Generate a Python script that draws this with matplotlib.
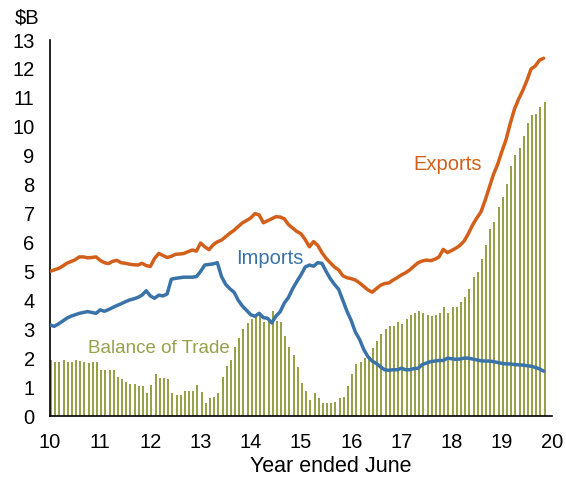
import matplotlib
matplotlib.use('Agg')
import matplotlib.pyplot as plt
import numpy as np

# monthly values, $B, starting at year-ended-June 2010
exports = [5.00, 5.05, 5.10, 5.18, 5.28, 5.34, 5.40, 5.50, 5.50, 5.47, 5.48, 5.50,
           5.38, 5.30, 5.27, 5.35, 5.38, 5.30, 5.28, 5.25, 5.23, 5.22, 5.28, 5.20,
           5.17, 5.45, 5.62, 5.55, 5.48, 5.52, 5.59, 5.60, 5.62, 5.68, 5.74, 5.70,
           5.98, 5.85, 5.75, 5.92, 6.02, 6.08, 6.20, 6.32, 6.42, 6.55, 6.68, 6.76,
           6.85, 7.00, 6.95, 6.68, 6.75, 6.82, 6.89, 6.88, 6.82, 6.62, 6.50, 6.38,
           6.30, 6.10, 5.85, 6.03, 5.90, 5.65, 5.45, 5.30, 5.15, 5.05, 4.85, 4.78,
           4.75, 4.70, 4.60, 4.48, 4.36, 4.28, 4.40, 4.52, 4.58, 4.60, 4.70, 4.78,
           4.88, 4.95, 5.05, 5.18, 5.30, 5.36, 5.39, 5.37, 5.42, 5.50, 5.76, 5.65,
           5.72, 5.80, 5.90, 6.05, 6.30, 6.60, 6.84, 7.05, 7.45, 7.90, 8.35, 8.70,
           9.14, 9.55, 10.10, 10.60, 10.95, 11.25, 11.60, 12.00, 12.10, 12.30, 12.37]

imports = [3.15, 3.10, 3.18, 3.28, 3.38, 3.45, 3.50, 3.55, 3.58, 3.61, 3.58, 3.55,
           3.67, 3.62, 3.68, 3.75, 3.82, 3.88, 3.95, 4.01, 4.05, 4.10, 4.18, 4.33,
           4.15, 4.07, 4.18, 4.15, 4.22, 4.73, 4.76, 4.78, 4.80, 4.80, 4.80, 4.82,
           5.00, 5.22, 5.24, 5.26, 5.30, 4.82, 4.55, 4.40, 4.28, 4.00, 3.80, 3.65,
           3.50, 3.45, 3.55, 3.40, 3.38, 3.22, 3.45, 3.60, 3.90, 4.10, 4.40, 4.65,
           4.88, 5.15, 5.22, 5.18, 5.30, 5.28, 5.00, 4.75, 4.55, 4.38, 4.00, 3.62,
           3.30, 2.90, 2.65, 2.30, 2.05, 1.90, 1.82, 1.70, 1.60, 1.58, 1.60, 1.60,
           1.65, 1.60, 1.60, 1.64, 1.65, 1.78, 1.83, 1.88, 1.90, 1.92, 1.92, 2.00,
           1.98, 1.96, 1.97, 2.00, 2.00, 1.97, 1.94, 1.91, 1.90, 1.90, 1.88, 1.85,
           1.82, 1.80, 1.80, 1.78, 1.77, 1.76, 1.74, 1.72, 1.68, 1.63, 1.55]

balance = [1.94, 1.88, 1.88, 1.92, 1.88, 1.88, 1.92, 1.90, 1.85, 1.82, 1.87, 1.87,
           1.58, 1.58, 1.58, 1.58, 1.36, 1.29, 1.19, 1.10, 1.10, 1.05, 1.03, 0.78,
           1.07, 1.44, 1.33, 1.33, 1.27, 0.78, 0.73, 0.73, 0.86, 0.86, 0.86, 1.07,
           0.84, 0.44, 0.61, 0.67, 0.78, 1.34, 1.73, 1.92, 2.40, 2.70, 3.00, 3.20,
           3.35, 3.50, 3.55, 3.25, 3.32, 3.62, 3.30, 3.25, 2.77, 2.40, 2.11, 1.68,
           1.15, 0.86, 0.55, 0.78, 0.61, 0.44, 0.44, 0.44, 0.50, 0.61, 0.67, 1.04,
           1.45, 1.80, 1.88, 2.00, 2.07, 2.34, 2.61, 2.82, 3.00, 3.11, 3.11, 3.24,
           3.18, 3.34, 3.48, 3.57, 3.64, 3.57, 3.49, 3.46, 3.49, 3.57, 3.76, 3.57,
           3.76, 3.76, 3.95, 4.13, 4.38, 4.80, 4.97, 5.43, 5.91, 6.46, 6.70, 7.24,
           7.58, 8.01, 8.64, 9.01, 9.28, 9.68, 10.12, 10.41, 10.44, 10.70, 10.87]

year_ticks = [10, 11, 12, 13, 14, 15, 16, 17, 18, 19, 20]

c_exp = '#D2601A'
c_imp = '#3A73A8'
c_bal = '#98A04A'

plt.rcParams['font.family'] = ['Liberation Sans', 'DejaVu Sans']
plt.rcParams['font.size'] = 14

months = 10 + np.arange(len(exports)) / 12

fig = plt.figure(figsize=(5.66, 4.78), dpi=100)
ax = fig.add_axes([50 / 566, 1 - 416 / 478, 502 / 566, 376 / 478])

ax.bar(months, balance, width=0.04, align='edge', color=c_bal, zorder=1)
ax.plot(months, exports, color=c_exp, lw=2.5, zorder=3, solid_capstyle='round')
ax.plot(months, imports, color=c_imp, lw=2.5, zorder=3, solid_capstyle='round')

ax.set_xlim(10, 20)
ax.set_ylim(0, 13)
ax.set_xticks(year_ticks)
ax.set_yticks(range(0, 14))
ax.tick_params(length=0, labelsize=14.5)
ax.tick_params(axis='x', pad=12)
ax.tick_params(axis='y', pad=11)
for s in ['top', 'right']:
    ax.spines[s].set_visible(False)
for s in ['left', 'bottom']:
    ax.spines[s].set_linewidth(1.2)
    ax.spines[s].set_color('black')

ax.text(17.93, 8.68, 'Exports', color=c_exp, fontsize=14.5, ha='center', va='center')
ax.text(14.38, 5.43, 'Imports', color=c_imp, fontsize=14.5, ha='center', va='center')
ax.text(12.17, 2.35, 'Balance of Trade', color=c_bal, fontsize=13.5, ha='center', va='center')

fig.text(27 / 566, 1 - 18 / 478, '$B', ha='center', va='center', fontsize=14.5)
fig.text(331 / 566, 1 - 466 / 478, 'Year ended June', ha='center', va='center', fontsize=15.5)

fig.savefig('out.png', dpi=100)
